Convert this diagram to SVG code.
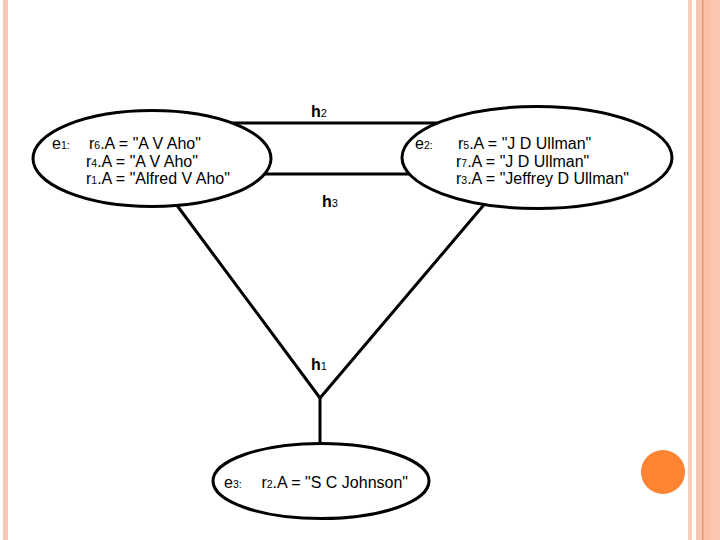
<svg xmlns="http://www.w3.org/2000/svg" width="720" height="540" viewBox="0 0 720 540">
<style>
.t{font-family:"Liberation Sans",Arial,sans-serif;font-size:16px;fill:#000}
.s{font-size:10.5px}
.h{font-family:"Liberation Sans",Arial,sans-serif;font-size:16px;font-weight:bold;fill:#000}
.hs{font-size:11px;font-weight:normal}
.node{fill:#fff;stroke:#000;stroke-width:3}
.edge{fill:none;stroke:#000;stroke-width:3}
</style>
<rect width="720" height="540" fill="#fff"/>
<g id="decor">
<rect x="3" y="0" width="5" height="540" fill="#f8c7b3"/>
<rect x="688" y="0" width="4" height="540" fill="#f9cdbd"/>
<rect x="696" y="0" width="24" height="540" fill="#fbc6b1"/>
<rect x="703" y="0" width="8" height="540" fill="#fdbfa6"/>
<rect x="702" y="0" width="1.5" height="540" fill="#e3976f"/>
<circle cx="663" cy="472" r="22" fill="#fd8433"/>
</g>
<g id="connectors">
<line class="edge" x1="225" y1="123" x2="445" y2="123"/>
<line class="edge" x1="255" y1="174" x2="415" y2="174"/>
<polyline class="edge" points="173,200 320,398 488,200"/>
<line class="edge" x1="320" y1="398" x2="320" y2="446"/>
</g>
<g id="e1">
<ellipse class="node" cx="152" cy="158.5" rx="119" ry="48"/>
<text class="t" x="52" y="149">e<tspan class="s">1:</tspan></text>
<text class="t" x="89" y="149">r<tspan class="s">6</tspan>.A = "A V Aho"</text>
<text class="t" x="86" y="166.5">r<tspan class="s">4</tspan>.A = "A V Aho"</text>
<text class="t" x="86" y="184">r<tspan class="s">1</tspan>.A = "Alfred V Aho"</text>
</g>
<g id="e2">
<ellipse class="node" cx="537" cy="157.5" rx="135" ry="51"/>
<text class="t" x="415" y="149">e<tspan class="s">2:</tspan></text>
<text class="t" x="458" y="149">r<tspan class="s">5</tspan>.A = "J D Ullman"</text>
<text class="t" x="456" y="166.5">r<tspan class="s">7</tspan>.A = "J D Ullman"</text>
<text class="t" x="456" y="184">r<tspan class="s">3</tspan>.A = "Jeffrey D Ullman"</text>
</g>
<g id="e3">
<ellipse class="node" cx="321" cy="481" rx="108" ry="37.5"/>
<text class="t" x="224" y="488">e<tspan class="s">3:</tspan></text>
<text class="t" x="408" y="488" text-anchor="end">r<tspan class="s">2</tspan>.A = "S C Johnson"</text>
</g>
<g id="h2"><text class="h" x="311" y="117">h<tspan class="hs">2</tspan></text></g>
<g id="h3"><text class="h" x="322" y="207">h<tspan class="hs">3</tspan></text></g>
<g id="h1"><text class="h" x="311" y="370">h<tspan class="hs">1</tspan></text></g>
</svg>
